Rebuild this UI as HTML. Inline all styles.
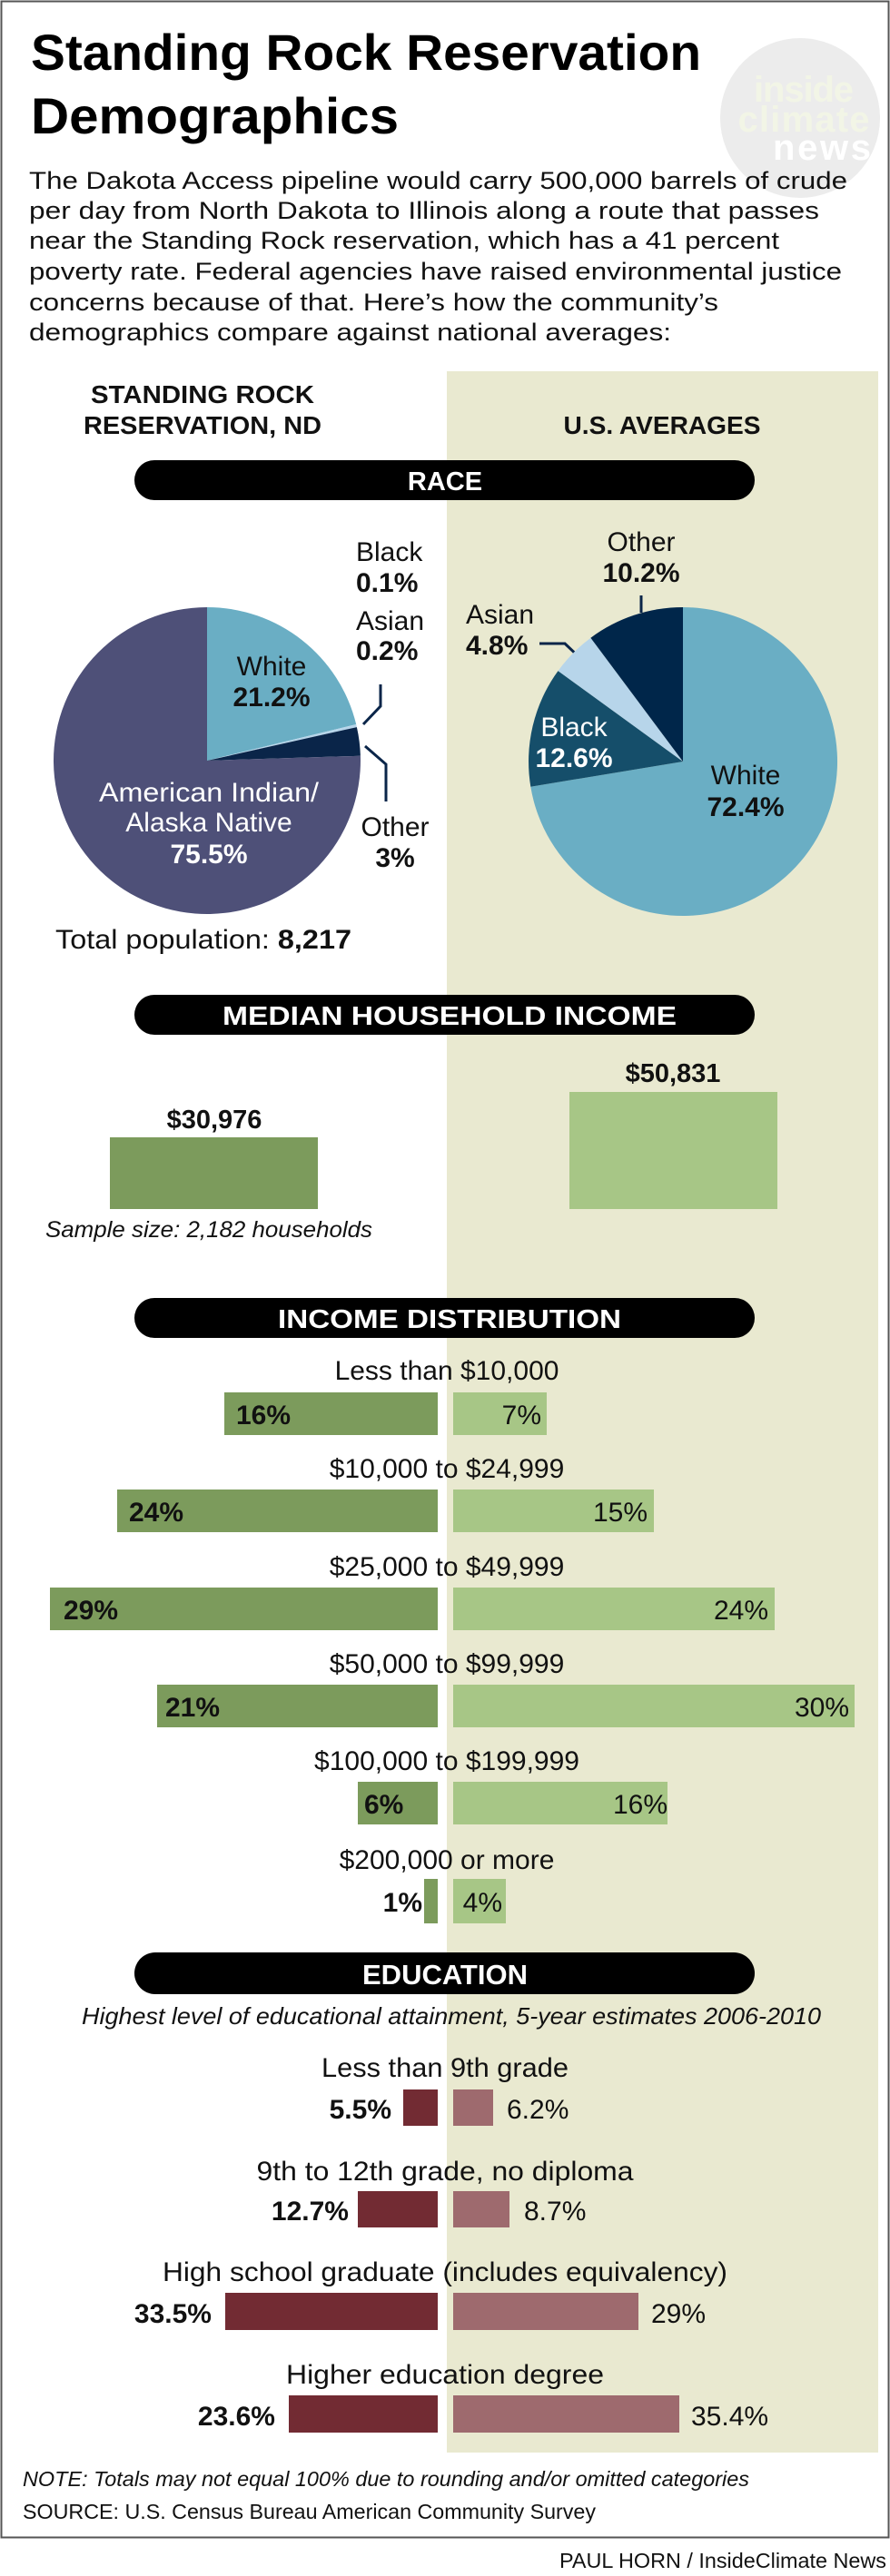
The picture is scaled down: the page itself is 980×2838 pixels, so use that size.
<!DOCTYPE html>
<html><head><meta charset="utf-8"><style>
html,body{margin:0;padding:0;background:#fff}
svg{display:block}
text{font-family:"Liberation Sans",sans-serif}
</style></head><body>
<svg width="980" height="2838" viewBox="0 0 980 2838" xmlns="http://www.w3.org/2000/svg">
<rect x="0" y="0" width="980" height="2838" fill="#fff"/>
<rect x="1.5" y="1.5" width="977" height="2794" fill="none" stroke="#555" stroke-width="2"/>
<rect x="492" y="409" width="475" height="2293" fill="#e9e9d0"/>
<circle cx="881" cy="130" r="88" fill="#ececec"/>
<g font-weight="bold" text-anchor="middle" font-size="40">
<text x="885" y="112" fill="#f2f5e6" textLength="110">inside</text>
<text x="885" y="145" fill="#f2f5e6" textLength="145">climate</text>
<text x="905" y="176" fill="#fff" textLength="108">news</text>
</g>
<g font-weight="bold" font-size="56" fill="#000">
<text x="34" y="77" textLength="738" lengthAdjust="spacingAndGlyphs">Standing Rock Reservation</text>
<text x="34" y="147" textLength="405" lengthAdjust="spacingAndGlyphs">Demographics</text>
</g>
<g font-size="27" fill="#111">
<text x="32" y="208" textLength="901" lengthAdjust="spacingAndGlyphs">The Dakota Access pipeline would carry 500,000 barrels of crude</text>
<text x="32" y="241" textLength="870" lengthAdjust="spacingAndGlyphs">per day from North Dakota to Illinois along a route that passes</text>
<text x="32" y="274" textLength="826" lengthAdjust="spacingAndGlyphs">near the Standing Rock reservation, which has a 41 percent</text>
<text x="32" y="308" textLength="895" lengthAdjust="spacingAndGlyphs">poverty rate. Federal agencies have raised environmental justice</text>
<text x="32" y="342" textLength="759" lengthAdjust="spacingAndGlyphs">concerns because of that. Here’s how the community’s</text>
<text x="32" y="375" textLength="707" lengthAdjust="spacingAndGlyphs">demographics compare against national averages:</text>
</g>
<g font-weight="bold" font-size="28" text-anchor="middle" fill="#111">
<text x="223" y="444" textLength="246" lengthAdjust="spacingAndGlyphs">STANDING ROCK</text>
<text x="223" y="478" textLength="262" lengthAdjust="spacingAndGlyphs">RESERVATION, ND</text>
<text x="729" y="478" textLength="217" lengthAdjust="spacingAndGlyphs">U.S. AVERAGES</text>
</g>
<g fill="#000">
<rect x="148" y="507" width="683" height="44" rx="22"/>
<rect x="148" y="1096" width="683" height="44" rx="22"/>
<rect x="148" y="1430" width="683" height="44" rx="22"/>
<rect x="148" y="2151" width="683" height="46" rx="23"/>
</g>
<g fill="#fff" font-weight="bold" font-size="29" text-anchor="middle">
<text x="490" y="540">RACE</text>
<text x="495" y="1129" textLength="500" lengthAdjust="spacingAndGlyphs">MEDIAN HOUSEHOLD INCOME</text>
<text x="495" y="1463" textLength="378" lengthAdjust="spacingAndGlyphs">INCOME DISTRIBUTION</text>
<text x="490" y="2186" font-size="31">EDUCATION</text>
</g>
<path d="M228,838 L228,669 A169,169 0 0 1 392.2,798 Z" fill="#6aaec4"/>
<path d="M228,838 L392.2,798 L392.9,801.1 Z" fill="#b7d5ea"/>
<path d="M228,838 L392.9,801.1 A169,169 0 0 1 396.9,832.7 Z" fill="#0a2549"/>
<path d="M228,838 L396.9,832.7 A169,169 0 1 1 228,669 Z" fill="#4e5078"/>
<g font-size="30" text-anchor="middle">
<text x="299" y="744" fill="#111">White</text>
<text x="299" y="778" fill="#111" font-weight="bold">21.2%</text>
<text x="230" y="883" fill="#fff" textLength="242" lengthAdjust="spacingAndGlyphs">American Indian/</text>
<text x="230" y="916" fill="#fff">Alaska Native</text>
<text x="230" y="951" fill="#fff" font-weight="bold">75.5%</text>
<text x="435" y="921" fill="#111">Other</text>
<text x="435" y="955" fill="#111" font-weight="bold">3%</text>
</g>
<g font-size="30" fill="#111">
<text x="392" y="618">Black</text>
<text x="392" y="652" font-weight="bold">0.1%</text>
<text x="392" y="694">Asian</text>
<text x="392" y="727" font-weight="bold">0.2%</text>
<text x="61" y="1045" textLength="326" lengthAdjust="spacingAndGlyphs">Total population: <tspan font-weight="bold">8,217</tspan></text>
</g>
<g fill="none" stroke="#0a2549" stroke-width="3">
<polyline points="419,754 419,778 400,798"/>
<polyline points="402,822 425,842 425,883"/>
<polyline points="594,709 622,709 644,730"/>
<polyline points="706,656 706,675"/>
</g>
<path d="M752,839 L752,669 A170,170 0 1 1 584.3,866.7 Z" fill="#6aaec4"/>
<path d="M752,839 L584.3,866.7 A170,170 0 0 1 614.5,739.1 Z" fill="#154e6a"/>
<path d="M752,839 L614.5,739.1 A170,170 0 0 1 650.4,702.7 Z" fill="#b7d5ea"/>
<path d="M752,839 L650.4,702.7 A170,170 0 0 1 752,669 Z" fill="#00264a"/>
<g font-size="30" text-anchor="middle">
<text x="706" y="607" fill="#111">Other</text>
<text x="706" y="641" fill="#111" font-weight="bold">10.2%</text>
<text x="632" y="811" fill="#fff">Black</text>
<text x="632" y="845" fill="#fff" font-weight="bold">12.6%</text>
<text x="821" y="864" fill="#111">White</text>
<text x="821" y="899" fill="#111" font-weight="bold">72.4%</text>
</g>
<g font-size="30" fill="#111">
<text x="513" y="687">Asian</text>
<text x="513" y="721" font-weight="bold">4.8%</text>
</g>
<rect x="121" y="1253" width="229" height="79" fill="#7c9b5c"/>
<rect x="627" y="1203" width="229" height="129" fill="#a7c686"/>
<g font-size="29" font-weight="bold" text-anchor="middle" fill="#111">
<text x="236" y="1243">$30,976</text>
<text x="741" y="1192">$50,831</text>
</g>
<text x="50" y="1363" font-size="25" font-style="italic" fill="#111" textLength="360" lengthAdjust="spacingAndGlyphs">Sample size: 2,182 households</text>
<g fill="#7c9b5c">
<rect x="247" y="1534" width="235" height="47"/>
<rect x="129" y="1641" width="353" height="47"/>
<rect x="55" y="1749" width="427" height="47"/>
<rect x="173" y="1856" width="309" height="47"/>
<rect x="394" y="1963" width="88" height="47"/>
<rect x="467" y="2070" width="15" height="49"/>
</g>
<g fill="#a7c686">
<rect x="499" y="1534" width="103" height="47"/>
<rect x="499" y="1641" width="221" height="47"/>
<rect x="499" y="1749" width="354" height="47"/>
<rect x="499" y="1856" width="442" height="47"/>
<rect x="499" y="1963" width="236" height="47"/>
<rect x="499" y="2070" width="58" height="49"/>
</g>
<g font-size="30" text-anchor="middle" fill="#111">
<text x="492" y="1520">Less than $10,000</text>
<text x="492" y="1628">$10,000 to $24,999</text>
<text x="492" y="1736">$25,000 to $49,999</text>
<text x="492" y="1843">$50,000 to $99,999</text>
<text x="492" y="1950">$100,000 to $199,999</text>
<text x="492" y="2059">$200,000 or more</text>
</g>
<g font-size="30" font-weight="bold" fill="#111">
<text x="260" y="1569">16%</text>
<text x="142" y="1676">24%</text>
<text x="70" y="1784">29%</text>
<text x="182" y="1891">21%</text>
<text x="401" y="1998">6%</text>
<text x="465" y="2106" text-anchor="end">1%</text>
</g>
<g font-size="30" fill="#111" text-anchor="end">
<text x="596" y="1569">7%</text>
<text x="713" y="1676">15%</text>
<text x="846" y="1784">24%</text>
<text x="935" y="1891">30%</text>
<text x="735" y="1998">16%</text>
<text x="553" y="2106">4%</text>
</g>
<text x="497" y="2230" font-size="26" font-style="italic" fill="#111" text-anchor="middle" textLength="814" lengthAdjust="spacingAndGlyphs">Highest level of educational attainment, 5-year estimates 2006-2010</text>
<g font-size="30" text-anchor="middle" fill="#111">
<text x="490" y="2288" textLength="272" lengthAdjust="spacingAndGlyphs">Less than 9th grade</text>
<text x="490" y="2402" textLength="415" lengthAdjust="spacingAndGlyphs">9th to 12th grade, no diploma</text>
<text x="490" y="2513" textLength="622" lengthAdjust="spacingAndGlyphs">High school graduate (includes equivalency)</text>
<text x="490" y="2626" textLength="350" lengthAdjust="spacingAndGlyphs">Higher education degree</text>
</g>
<g fill="#722b33">
<rect x="444" y="2302" width="38" height="40"/>
<rect x="394" y="2414" width="88" height="40"/>
<rect x="248" y="2526" width="234" height="41"/>
<rect x="318" y="2639" width="164" height="41"/>
</g>
<g fill="#9e6a6e">
<rect x="499" y="2302" width="44" height="40"/>
<rect x="499" y="2414" width="62" height="40"/>
<rect x="499" y="2526" width="204" height="41"/>
<rect x="499" y="2639" width="249" height="41"/>
</g>
<g font-size="30" font-weight="bold" fill="#111" text-anchor="end">
<text x="431" y="2334">5.5%</text>
<text x="384" y="2446">12.7%</text>
<text x="233" y="2559">33.5%</text>
<text x="303" y="2672">23.6%</text>
</g>
<g font-size="30" fill="#111">
<text x="558" y="2334">6.2%</text>
<text x="577" y="2446">8.7%</text>
<text x="717" y="2559">29%</text>
<text x="761" y="2672">35.4%</text>
</g>
<text x="25" y="2739" font-size="23" font-style="italic" fill="#111" textLength="800" lengthAdjust="spacingAndGlyphs">NOTE: Totals may not equal 100% due to rounding and/or omitted categories</text>
<text x="25" y="2775" font-size="23" fill="#111" textLength="631" lengthAdjust="spacingAndGlyphs">SOURCE: U.S. Census Bureau American Community Survey</text>
<text x="976" y="2829" font-size="23" fill="#111" text-anchor="end" textLength="360" lengthAdjust="spacingAndGlyphs">PAUL HORN / InsideClimate News</text>
</svg>
</body></html>
